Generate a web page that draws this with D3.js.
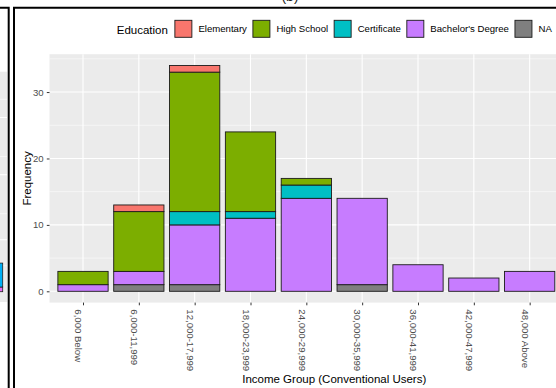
<!DOCTYPE html>
<html>
<head>
<meta charset="utf-8">
<script src="https://cdn.jsdelivr.net/npm/d3@7"></script>
<style>
  html, body { margin: 0; padding: 0; background: #fff; overflow: hidden; }
  svg { display: block; }
  text { font-family: "Liberation Sans", Arial, Helvetica, sans-serif; }
</style>
</head>
<body>
<svg id="chart" width="556" height="388"></svg>
<script>
// Income groups on the x axis
const categories = ["6,000 Below", "6,000-11,999", "12,000-17,999", "18,000-23,999",
  "24,000-29,999", "30,000-35,999", "36,000-41,999", "42,000-47,999", "48,000 Above"];

// Education levels (legend order) and their counts per income group
const levels = ["Elementary", "High School", "Certificate", "Bachelor's Degree", "NA"];
const elementary  = [0, 1, 1, 0, 0, 0, 0, 0, 0];
const highSchool  = [2, 9, 21, 12, 1, 0, 0, 0, 0];
const certificate = [0, 0, 2, 1, 2, 0, 0, 0, 0];
const bachelors   = [1, 2, 9, 11, 14, 13, 4, 2, 3];
const notAnswered = [0, 1, 1, 0, 0, 1, 0, 0, 0];
const levelColors = ["#F8766D", "#7CAE00", "#00BFC4", "#C77CFF", "#7F7F7F"];

const yTicks = [0, 10, 20, 30];
const yMinor = [5, 15, 25, 35];

// Sliver of the neighbouring panel (a)
const neighbourSegments = [0.18, 0.92];
const neighbourColors = ["#E76BF3", "#00B0F6"];
const neighbourGrid = [1, 2, 3, 4.5, 5.2, 6.7, 7.4];

const seriesByLevel = {
  "Elementary": elementary,
  "High School": highSchool,
  "Certificate": certificate,
  "Bachelor's Degree": bachelors,
  "NA": notAnswered
};

const svg = d3.select("#chart");
const W = 556, H = 388;

// ---- panel geometry (the panel runs past the right edge of the frame) ----
const panel = { left: 49.5, right: 619, top: 54.2, bottom: 302.6 };
const slotCount = categories.length + 1;

const x = d3.scaleLinear()
  .domain([0.4, slotCount + 0.6])
  .range([panel.left, panel.right]);

// counts run 0..34, padded by 5% of the range on both ends
const y = d3.scaleLinear()
  .domain([-1.7, 35.7])
  .range([panel.bottom, panel.top]);

// ---- neighbouring panel sliver and frames ----
const nY = d3.scaleLinear().domain([0, 1]).range([291.7, 265.7]);
svg.append("rect").attr("x", -20).attr("y", 71.7).attr("width", 27.3).attr("height", 302 - 71.7)
  .attr("fill", "#EBEBEB");
svg.append("g").selectAll("line").data(neighbourGrid).join("line")
  .attr("x1", -20).attr("x2", 7.3)
  .attr("y1", d => nY(d)).attr("y2", d => nY(d))
  .attr("stroke", "#fff").attr("stroke-width", (d, i) => i % 2 ? 1.1 : 0.55);
const nStack = d3.cumsum(neighbourSegments);
svg.append("g").selectAll("rect").data(neighbourSegments).join("rect")
  .attr("x", -40).attr("width", 42.7)
  .attr("y", (d, i) => nY(nStack[i]))
  .attr("height", (d, i) => nY(nStack[i] - d) - nY(nStack[i]))
  .attr("fill", (d, i) => neighbourColors[i])
  .attr("stroke", "#222").attr("stroke-width", 0.8);

svg.append("path").attr("d", `M0,7.75 H8.7 V${H}`)
  .attr("fill", "none").attr("stroke", "#000").attr("stroke-width", 2);
svg.append("path").attr("d", `M14,${H} V7.75 H${W + 5}`)
  .attr("fill", "none").attr("stroke", "#000").attr("stroke-width", 2);

// figure tag, mostly above the top edge
svg.append("text").attr("x", 290).attr("y", 0.5).attr("text-anchor", "middle")
  .attr("font-size", 14).attr("fill", "#222").text("(b)");

// ---- panel background and grid ----
svg.append("clipPath").attr("id", "frameClip")
  .append("rect").attr("x", 15).attr("y", 8.75).attr("width", W).attr("height", H);

const g = svg.append("g").attr("clip-path", "url(#frameClip)");

g.append("rect")
  .attr("x", panel.left).attr("y", panel.top)
  .attr("width", panel.right - panel.left).attr("height", panel.bottom - panel.top)
  .attr("fill", "#EBEBEB");

g.append("g").selectAll("line").data(yMinor).join("line")
  .attr("x1", panel.left).attr("x2", panel.right)
  .attr("y1", d => y(d)).attr("y2", d => y(d))
  .attr("stroke", "#fff").attr("stroke-width", 0.55);

g.append("g").selectAll("line").data(yTicks).join("line")
  .attr("x1", panel.left).attr("x2", panel.right)
  .attr("y1", d => y(d)).attr("y2", d => y(d))
  .attr("stroke", "#fff").attr("stroke-width", 1.1);

g.append("g").selectAll("line").data(categories).join("line")
  .attr("x1", (d, i) => x(i + 1)).attr("x2", (d, i) => x(i + 1))
  .attr("y1", panel.top).attr("y2", panel.bottom)
  .attr("stroke", "#fff").attr("stroke-width", 1.1);

// ---- stacked bars (NA at the bottom, Elementary on top) ----
const rows = categories.map((c, i) => {
  const r = { category: c, index: i };
  levels.forEach(l => { r[l] = seriesByLevel[l][i]; });
  return r;
});
const stackKeys = levels.slice().reverse();
const stacked = d3.stack().keys(stackKeys)(rows);
const colorOf = d3.scaleOrdinal().domain(levels).range(levelColors);
const barHalf = 0.45;

g.append("g").selectAll("g").data(stacked).join("g")
  .attr("fill", d => colorOf(d.key))
  .selectAll("rect")
  .data(d => d.filter(s => s[1] - s[0] > 0))
  .join("rect")
  .attr("x", s => x(s.data.index + 1 - barHalf))
  .attr("width", s => x(s.data.index + 1 + barHalf) - x(s.data.index + 1 - barHalf))
  .attr("y", s => y(s[1]))
  .attr("height", s => y(s[0]) - y(s[1]))
  .attr("stroke", "#1a1a1a").attr("stroke-width", 0.9);

// ---- axes ----
const yAxis = d3.axisLeft(y).tickValues(yTicks).tickSize(2.7).tickPadding(3.2).tickFormat(d3.format("d"));
const yAxisG = svg.append("g").attr("transform", `translate(${panel.left},0)`).call(yAxis);
yAxisG.select(".domain").remove();
yAxisG.selectAll("line").attr("stroke", "#333").attr("stroke-width", 1);
yAxisG.selectAll("text").attr("fill", "#4D4D4D").attr("font-size", 9.6);

const xAxis = d3.axisBottom(x)
  .tickValues(categories.map((c, i) => i + 1))
  .tickFormat(v => categories[v - 1])
  .tickSize(2.7);
const xAxisG = svg.append("g").attr("transform", `translate(0,${panel.bottom})`).call(xAxis);
xAxisG.select(".domain").remove();
xAxisG.selectAll("line").attr("stroke", "#333").attr("stroke-width", 1);
// labels turned a quarter clockwise, hanging just left of their tick
xAxisG.selectAll("text")
  .attr("fill", "#4D4D4D").attr("font-size", 9.6)
  .attr("text-anchor", "start")
  .attr("transform", "translate(0,6.7) rotate(90)")
  .attr("x", 0).attr("y", 0).attr("dy", 8.2);

const panelCenterX = (panel.left + panel.right) / 2;

svg.append("text")
  .attr("x", panelCenterX).attr("y", 383.3)
  .attr("text-anchor", "middle").attr("font-size", 11.5).attr("fill", "#000")
  .text("Income Group (Conventional Users)");

svg.append("text")
  .attr("transform", `translate(30.6,${(panel.top + panel.bottom) / 2}) rotate(-90)`)
  .attr("text-anchor", "middle").attr("font-size", 11.5).attr("fill", "#000")
  .text("Frequency");

// ---- legend (top, horizontal, centred on the panel) ----
const legend = svg.append("g");
const title = legend.append("text").attr("y", 34).attr("font-size", 11.5).attr("fill", "#000")
  .text("Education");
const titleW = title.node().getComputedTextLength();
const keySize = 17, keyGap = 6.5, itemGap = 6, titleGap = 7;

const items = legend.selectAll("g.item").data(levels).join("g").attr("class", "item");
items.append("rect")
  .attr("y", 20.3).attr("width", keySize).attr("height", keySize)
  .attr("fill", d => colorOf(d)).attr("stroke", "#1a1a1a").attr("stroke-width", 0.9);
items.append("text")
  .attr("x", keySize + keyGap).attr("y", 32.3)
  .attr("font-size", 9.6).attr("fill", "#000")
  .text(d => d);

let cursor = titleW + titleGap;
items.each(function () {
  const t = d3.select(this).select("text").node().getComputedTextLength();
  d3.select(this).attr("transform", `translate(${cursor},0)`);
  cursor += keySize + keyGap + t + itemGap;
});
const legendW = cursor - itemGap;
legend.attr("transform", `translate(${panelCenterX - legendW / 2},0)`);
</script>
</body>
</html>
